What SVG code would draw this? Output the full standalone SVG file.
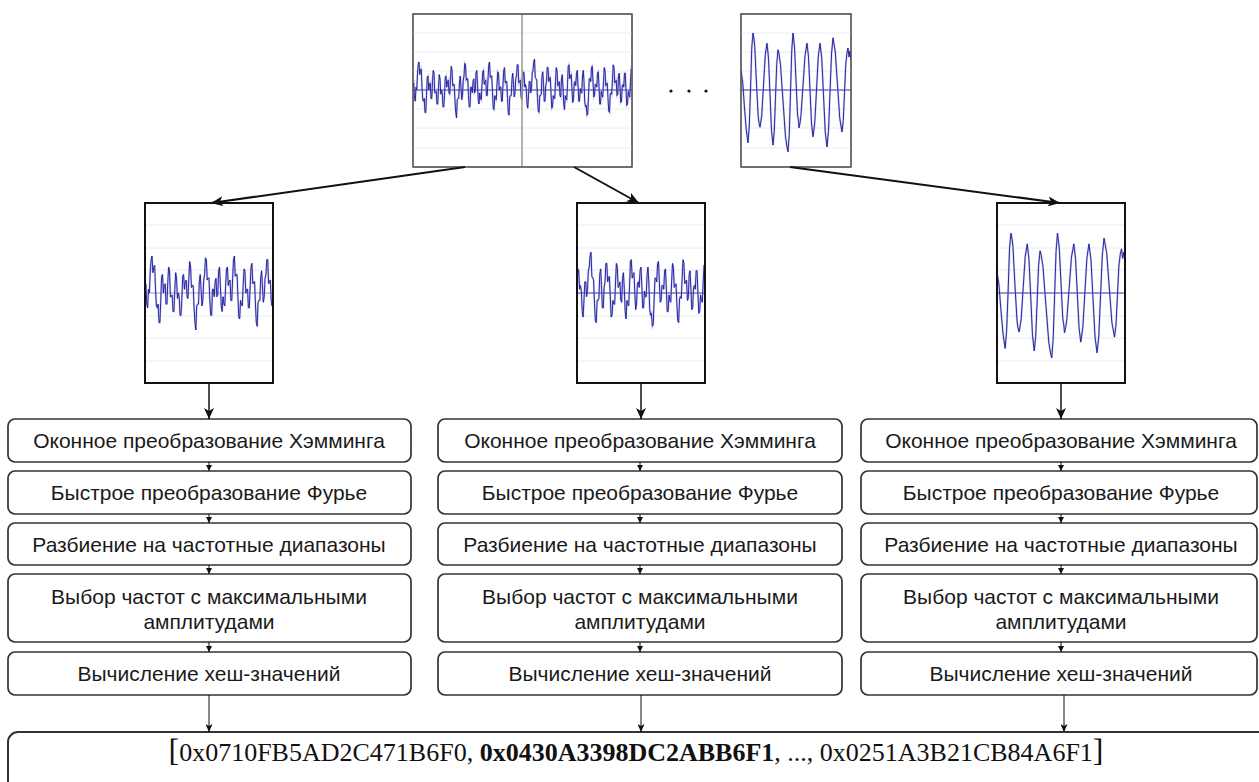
<svg xmlns="http://www.w3.org/2000/svg" xmlns:xlink="http://www.w3.org/1999/xlink" width="1259" height="782" viewBox="0 0 1259 782">
<style>
.box{fill:#fff;stroke:#333;stroke-width:1.7}
.lbl{font-family:"Liberation Sans",Arial,sans-serif;font-size:21px;fill:#1a1a1a;text-anchor:middle}
.frameT{fill:#fff;stroke:#555;stroke-width:1.2}
.frameM{fill:none;stroke:#111;stroke-width:2}
.grid{stroke:#ececf4;stroke-width:1}
.axis{stroke:#2a2aa8;stroke-width:1}
.halo{fill:none;stroke:#a0a0e0;stroke-width:2;stroke-opacity:0.55}
.wave{fill:none;stroke:#16169a;stroke-width:0.9}
.big{fill:none;stroke:#111;stroke-width:2}
.mid{fill:none;stroke:#111;stroke-width:1.5}
.thin{fill:none;stroke:#111;stroke-width:1}
.hash{font-family:"Liberation Serif","Times New Roman",serif;font-size:26px;fill:#111;text-anchor:middle}
</style>
<defs>
<marker id="aBig" viewBox="0 0 12 10" refX="12" refY="5" markerWidth="12" markerHeight="10" markerUnits="userSpaceOnUse" orient="auto"><path d="M0,0 L12,5 L0,10 L3,5 z" fill="#111"/></marker>
<marker id="aMid" viewBox="0 0 11 10" refX="11" refY="5" markerWidth="11" markerHeight="10" markerUnits="userSpaceOnUse" orient="auto"><path d="M0,0 L11,5 L0,10 L3,5 z" fill="#111"/></marker>
<marker id="aSm" viewBox="0 0 6 6" refX="6" refY="3" markerWidth="6" markerHeight="6" markerUnits="userSpaceOnUse" orient="auto"><path d="M0,0 L6,3 L0,6 z" fill="#111"/></marker>
<marker id="aThin" viewBox="0 0 8 7" refX="8" refY="3.5" markerWidth="8" markerHeight="7" markerUnits="userSpaceOnUse" orient="auto"><path d="M0,0 L8,3.5 L0,7 L2,3.5 z" fill="#111"/></marker>
<clipPath id="cT"><rect x="413" y="14" width="219" height="153"/></clipPath>
<clipPath id="cTR"><rect x="741" y="14" width="110" height="153"/></clipPath>
<clipPath id="cL"><rect x="145" y="203" width="128" height="180"/></clipPath>
<clipPath id="cM"><rect x="577" y="203" width="128" height="180"/></clipPath>
<clipPath id="cR"><rect x="997" y="203" width="128" height="180"/></clipPath>
<polyline id="noise" vector-effect="non-scaling-stroke" points="0,0.2 0.5,0.25 1,-0.3 1.5,-0.4 2,0.1 2.5,0 3,0.6 3.5,0.9 4,1.0 4.5,0.55 5,0.7 5.5,0.75 6,0.1 6.5,-0.35 7,-0.4 7.5,-0.3 8,-0.8 8.5,-0.8 9,-0.2 9.5,0.45 10,0.5 10.5,0 11,0.2 11.5,0.25 12,-0.3 12.5,-0.3 13,0.3 13.5,0.7 14,0.6 14.5,-0.1 15,-0.1 15.5,-0.05 16,-0.5 16.5,-0.5 17,0.1 17.5,0.55 18,0.4 18.5,-0.15 19,0 19.5,-0.1 20,-0.6 20.5,-0.6 21,-0.2 21.5,0.45 22,0.5 22.5,0.1 23,0.3 23.5,0.35 24,-0.1 24.5,-0.15 25,0.4 25.5,0.85 26,0.7 26.5,0.15 27,0.2 27.5,0.2 28,-0.4 28.5,-0.8 29,-1.0 29.5,-0.35 30,-0.3 30.5,-0.3 31,0.3 31.5,0.5 32,0.1 32.5,-0.35 33,-0.2 33.5,0.35 34,0.5 34.5,0.95 35,0.9 35.5,0.35 36,0.4 36.5,0.4 37,-0.2 37.5,-0.6 38,-0.6 38.5,0.1 39,0.1 39.5,-0.1 40,0.3 40.5,0.4 41,-0.1 41.5,-0.05 42,0.6 42.5,0.7 43,0.2 43.5,-0.35 44,-0.5 44.5,-0.1 45,-0.3 45.5,-0.35 46,0.2 46.5,0.65 47,0.7 47.5,0.2 48,0.3 48.5,0.35 49,-0.2 49.5,-0.2 50,0.4 50.5,0.9 51,1.0 51.5,0.45 52,0.5 52.5,0.5 53,-0.1 53.5,-0.65 54,-0.7 54.5,-0.2 55,-0.3 55.5,-0.35 56,0.2 56.5,0.65 57,0.6 57.5,0 58,0.1 58.5,0.1 59,-0.4 59.5,-0.4 60,0.2 60.5,0.7 61,0.8 61.5,0.25 62,0.3 62.5,0.3 63,-0.3 63.5,-0.8 64,-0.9 64.5,-0.25 65,-0.2 65.5,-0.2 66,0.4 66.5,0.6 67,0.2 67.5,-0.25 68,-0.1 68.5,0.4 69,0.5 69.5,0.9 70,0.9 70.5,0.25 71,0.3 71.5,0.35 72,-0.2 72.5,-0.35 73,0.1 73.5,0.65 74,0.6 74.5,0.1 75,0.2 75.5,0.05 76,-0.5 76.5,-0.65 77,-0.2 77.5,0.3 78,0.3 78.5,-0.1 79,0.1 79.5,0.6 80,0.7 80.5,1.0 81,1.1 81.5,0.45 82,0.4 82.5,0.35 83,-0.3 83.5,-0.75 84,-0.8 84.5,-0.2 85,-0.2 85.5,-0.15 86,0.5 86.5,0.65 87,0.2 87.5,-0.4 88,-0.4 88.5,0.15 89,0.3 89.5,0.8 90,0.8 90.5,0.3 91,0.4 91.5,0.45 92,-0.1 92.5,-0.65 93,-0.6 93.5,-0.2 94,-0.3 94.5,-0.3 95,0.3 95.5,0.8 96,0.7 96.5,0.15 97,0.2 97.5,0.3 98,-0.2 98.5,-0.25 99,0.4 99.5,0.55 100,0.1 100.5,-0.5 101,-0.7 101.5,-0.2 102,-0.3 102.5,-0.35 103,0.2 103.5,0.85 104,0.9 104.5,0.4 105,0.5 105.5,0.55 106,0 106.5,-0.45 107,-0.3 107.5,0.25 108,0.3 108.5,0.15 109,0.6 109.5,0.7 110,0.2 110.5,-0.4 111,-0.4 111.5,0.05 112,-0.1 112.5,-0.1 113,0.5 113.5,0.7 114,0.3 114.5,-0.45 115,-0.6 115.5,-0.55 116,-0.9 116.5,-0.85 117,-0.2 117.5,0.4 118,0.4 118.5,0.3 119,0.8 119.5,0.85 120,0.3 120.5,-0.25 121,-0.2 121.5,0.2 122,0.2 122.5,0.1 123,0.6 123.5,0.65 124,0.1 124.5,-0.5 125,-0.5 125.5,-0.05 126,-0.2 126.5,-0.25 127,0.3 127.5,0.8 128,0.7 128.5,0.15 129,0.2 129.5,0.25 130,-0.3 130.5,-0.75 131,-0.8 131.5,-0.15 132,-0.1 132.5,-0.15 133,0.4 133.5,0.9 134,0.8 134.5,0.25 135,0.3 135.5,0.35 136,-0.2 136.5,-0.15 137,0.5 137.5,0.6 138,0.1 138.5,-0.45 139,-0.4 139.5,0.15 140,0.2 140.5,0.1 141,0.6 141.5,0.6 142,0 142.5,-0.55 143,-0.5 143.5,-0.05 144,-0.2 144.5,-0.25 145,0.3 145.5,0.75 146,0.7"/>
<polyline id="sine" vector-effect="non-scaling-stroke" points="0,-0.33 1.75,-0.12 3.5,0.3 5.25,0.66 7,0.88 8.25,0.6 9.5,0.0 10.75,-0.7 12,-0.95 13,-0.85 13.75,-0.72 15.5,-0.1 17.25,0.45 18,0.55 19,0.62 20.75,0.42 22.5,-0.08 24.25,-0.58 26,-0.78 27.5,-0.53 29,0.07 30.5,0.67 32,0.92 33.25,0.69 34.5,0.125 35.75,-0.44 37,-0.67 38,-0.6 39.5,-0.42 41,-0.05 42,0.18 44.5,0.78 46,0.95 47,1.03 48.25,0.74 49.5,0.04 50.75,-0.66 52,-0.95 53.5,-0.72 55,-0.16 56.5,0.4 57.5,0.52 58,0.63 59,0.55 60,0.42 62,-0.075 64,-0.57 66,-0.78 67.5,-0.55 69,0.0 70.5,0.55 72,0.78 73.75,0.55 75.5,0.0 77.25,-0.55 79,-0.78 80.75,-0.53 82.5,0.085 84.25,0.7 86,0.95 87.5,0.68 89,0.04 90.5,-0.6 92,-0.87 94.25,-0.64 96.5,-0.085 98.75,0.47 101,0.7 102.25,0.51 103.5,0.04 104.75,-0.43 106,-0.62 107,-0.7 108,-0.55 109,-0.65 110,-0.5"/>
</defs>
<rect width="1259" height="782" fill="#fff"/>

<g id="signal-top">
<rect class="frameT" x="413" y="14" width="219" height="153"/>
<path class="grid" d="M413,33H632M413,52H632M413,71H632M413,109H632M413,128H632M413,148H632"/>
<line class="axis" x1="413" y1="90" x2="632" y2="90"/>
<g clip-path="url(#cT)">
<use xlink:href="#noise" class="halo" transform="translate(413,90) scale(1.5,-28)"/>
<use xlink:href="#noise" class="wave" transform="translate(413,90) scale(1.5,-28)"/>
</g>
<line x1="522" y1="14" x2="522" y2="167" stroke="#999" stroke-width="1.5"/>
<rect x="413" y="14" width="219" height="153" fill="none" stroke="#555" stroke-width="1.2"/>
</g>

<g id="dots" fill="#111">
<circle cx="671" cy="91" r="1.6"/><circle cx="689" cy="91" r="1.6"/><circle cx="706" cy="91" r="1.6"/>
</g>

<g id="signal-top-right">
<rect class="frameT" x="741" y="14" width="110" height="153"/>
<path class="grid" d="M741,33H851M741,52H851M741,71H851M741,109H851M741,128H851M741,148H851"/>
<line class="axis" x1="741" y1="90" x2="851" y2="90"/>
<g clip-path="url(#cTR)">
<use xlink:href="#sine" class="halo" transform="translate(741,90) scale(1,60)"/>
<use xlink:href="#sine" class="wave" transform="translate(741,90) scale(1,60)"/>
</g>
<rect x="741" y="14" width="110" height="153" fill="none" stroke="#555" stroke-width="1.2"/>
</g>

<g id="frame-left">
<rect x="145" y="203" width="128" height="180" fill="#fff"/>
<path class="grid" d="M145,225H273M145,248H273M145,270H273M145,316H273M145,338H273M145,361H273"/>
<line class="axis" x1="145" y1="293" x2="273" y2="293" stroke-opacity="0.5"/>
<g clip-path="url(#cL)">
<use xlink:href="#noise" class="halo" transform="translate(145,293) scale(1.753,-37)"/>
<use xlink:href="#noise" class="wave" transform="translate(145,293) scale(1.753,-37)"/>
</g>
<rect class="frameM" x="145" y="203" width="128" height="180"/>
</g>

<g id="frame-middle">
<rect x="577" y="203" width="128" height="180" fill="#fff"/>
<path class="grid" d="M577,225H705M577,248H705M577,270H705M577,316H705M577,338H705M577,361H705"/>
<line class="axis" x1="577" y1="293" x2="705" y2="293"/>
<g clip-path="url(#cM)">
<use xlink:href="#noise" class="halo" transform="translate(449,293) scale(1.753,-37)"/>
<use xlink:href="#noise" class="wave" transform="translate(449,293) scale(1.753,-37)"/>
</g>
<rect class="frameM" x="577" y="203" width="128" height="180"/>
</g>

<g id="frame-right">
<rect x="997" y="203" width="128" height="180" fill="#fff"/>
<path class="grid" d="M997,225H1125M997,248H1125M997,270H1125M997,316H1125M997,338H1125M997,361H1125"/>
<line class="axis" x1="997" y1="293" x2="1125" y2="293"/>
<g clip-path="url(#cR)">
<use xlink:href="#sine" class="halo" transform="translate(997,293) scale(1.1636,63)"/>
<use xlink:href="#sine" class="wave" transform="translate(997,293) scale(1.1636,63)"/>
</g>
<rect class="frameM" x="997" y="203" width="128" height="180"/>
</g>

<g id="col-left">
<rect class="box" x="8" y="419" width="403" height="43" rx="7"/>
<text class="lbl" x="209" y="448">Оконное преобразование Хэмминга</text>
<rect class="box" x="8" y="471" width="403" height="43" rx="7"/>
<text class="lbl" x="209" y="500">Быстрое преобразование Фурье</text>
<rect class="box" x="8" y="523" width="403" height="42" rx="7"/>
<text class="lbl" x="209" y="551.5">Разбиение на частотные диапазоны</text>
<rect class="box" x="8" y="574" width="403" height="68" rx="7"/>
<text class="lbl" x="209" y="604">Выбор частот с максимальными</text>
<text class="lbl" x="209" y="629">амплитудами</text>
<rect class="box" x="8" y="652" width="403" height="43" rx="7"/>
<text class="lbl" x="209" y="681">Вычисление хеш-значений</text>
</g>

<g id="col-middle">
<rect class="box" x="438" y="419" width="404" height="43" rx="7"/>
<text class="lbl" x="640" y="448">Оконное преобразование Хэмминга</text>
<rect class="box" x="438" y="471" width="404" height="43" rx="7"/>
<text class="lbl" x="640" y="500">Быстрое преобразование Фурье</text>
<rect class="box" x="438" y="523" width="404" height="42" rx="7"/>
<text class="lbl" x="640" y="551.5">Разбиение на частотные диапазоны</text>
<rect class="box" x="438" y="574" width="404" height="68" rx="7"/>
<text class="lbl" x="640" y="604">Выбор частот с максимальными</text>
<text class="lbl" x="640" y="629">амплитудами</text>
<rect class="box" x="438" y="652" width="404" height="43" rx="7"/>
<text class="lbl" x="640" y="681">Вычисление хеш-значений</text>
</g>

<g id="col-right">
<rect class="box" x="861" y="419" width="396" height="43" rx="7"/>
<text class="lbl" x="1061" y="448">Оконное преобразование Хэмминга</text>
<rect class="box" x="861" y="471" width="396" height="43" rx="7"/>
<text class="lbl" x="1061" y="500">Быстрое преобразование Фурье</text>
<rect class="box" x="861" y="523" width="396" height="42" rx="7"/>
<text class="lbl" x="1061" y="551.5">Разбиение на частотные диапазоны</text>
<rect class="box" x="861" y="574" width="396" height="68" rx="7"/>
<text class="lbl" x="1061" y="604">Выбор частот с максимальными</text>
<text class="lbl" x="1061" y="629">амплитудами</text>
<rect class="box" x="861" y="652" width="396" height="43" rx="7"/>
<text class="lbl" x="1061" y="681">Вычисление хеш-значений</text>
</g>

<g id="hash-list">
<rect x="8" y="732" width="1275" height="80" rx="10" fill="#fff" stroke="#333" stroke-width="2"/>
<text class="hash" x="636" y="761"><tspan font-size="32">[</tspan>0x0710FB5AD2C471B6F0, <tspan font-weight="bold">0x0430A3398DC2ABB6F1</tspan>, ..., 0x0251A3B21CB84A6F1<tspan font-size="32">]</tspan></text>
</g>

<g id="connectors">
<line class="big" x1="465" y1="167" x2="211" y2="203" marker-end="url(#aBig)"/>
<line class="big" x1="574" y1="167" x2="639" y2="203" marker-end="url(#aBig)"/>
<line class="big" x1="790" y1="167" x2="1060" y2="203" marker-end="url(#aBig)"/>
<line class="mid" x1="209" y1="383" x2="209" y2="419" marker-end="url(#aMid)"/>
<line class="mid" x1="641" y1="383" x2="641" y2="419" marker-end="url(#aMid)"/>
<line class="mid" x1="1061" y1="383" x2="1061" y2="419" marker-end="url(#aMid)"/>
<line class="thin" x1="209" y1="462" x2="209" y2="471" marker-end="url(#aSm)"/>
<line class="thin" x1="209" y1="514" x2="209" y2="523" marker-end="url(#aSm)"/>
<line class="thin" x1="209" y1="565" x2="209" y2="574" marker-end="url(#aSm)"/>
<line class="thin" x1="209" y1="642" x2="209" y2="652" marker-end="url(#aSm)"/>
<line class="thin" x1="640" y1="462" x2="640" y2="471" marker-end="url(#aSm)"/>
<line class="thin" x1="640" y1="514" x2="640" y2="523" marker-end="url(#aSm)"/>
<line class="thin" x1="640" y1="565" x2="640" y2="574" marker-end="url(#aSm)"/>
<line class="thin" x1="640" y1="642" x2="640" y2="652" marker-end="url(#aSm)"/>
<line class="thin" x1="1061" y1="462" x2="1061" y2="471" marker-end="url(#aSm)"/>
<line class="thin" x1="1061" y1="514" x2="1061" y2="523" marker-end="url(#aSm)"/>
<line class="thin" x1="1061" y1="565" x2="1061" y2="574" marker-end="url(#aSm)"/>
<line class="thin" x1="1061" y1="642" x2="1061" y2="652" marker-end="url(#aSm)"/>
<line class="thin" x1="209" y1="695" x2="209" y2="732" marker-end="url(#aThin)"/>
<line class="thin" x1="641" y1="695" x2="641" y2="732" marker-end="url(#aThin)"/>
<line class="thin" x1="1064" y1="695" x2="1064" y2="732" marker-end="url(#aThin)"/>
</g>
</svg>
